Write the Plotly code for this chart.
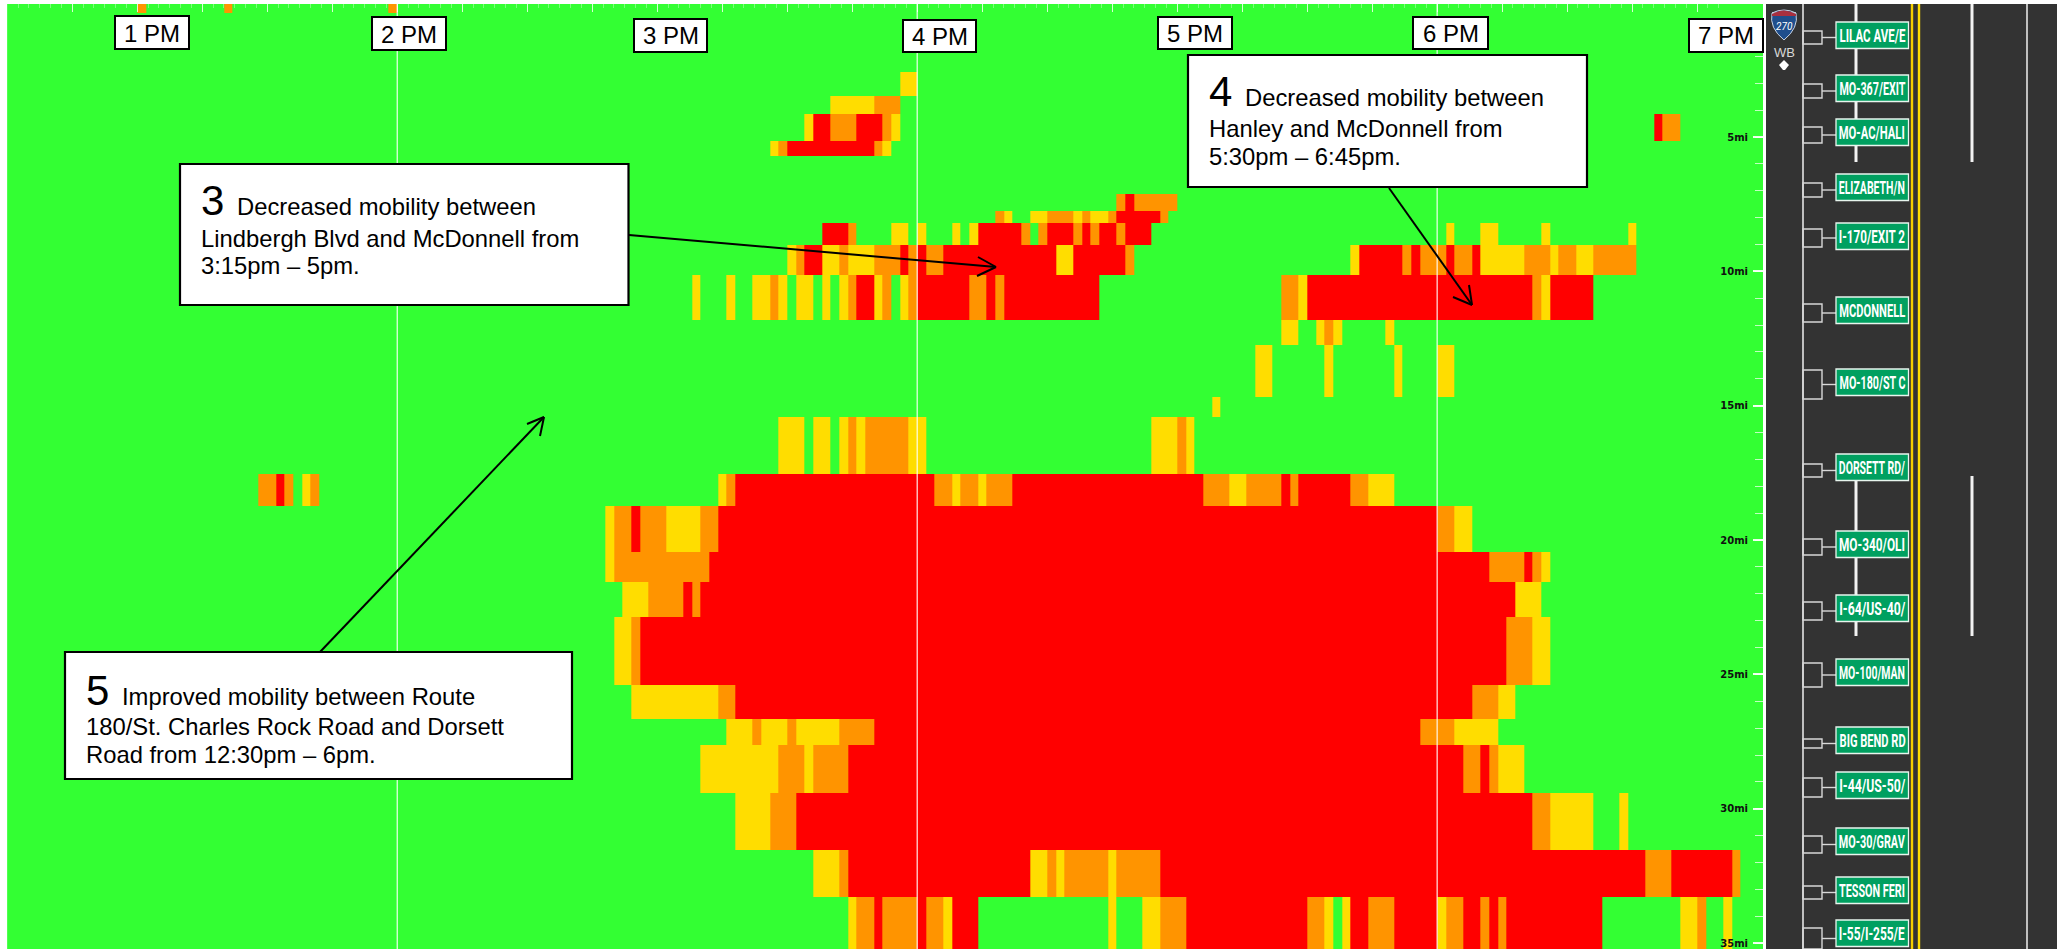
import plotly.graph_objects as go

W, H = 2057, 949
G, Y, O, R = 0, 1, 2, 3

# distance at each row boundary (miles along I-270 WB)
row_edges_mi = [0.05, 0.38, 2.58, 3.47, 4.14, 5.15, 5.70, 7.12, 7.75, 8.20, 9.02, 10.13, 11.81,
                12.74, 14.67, 15.42, 17.54, 18.73, 20.44, 21.56, 22.86, 25.39, 26.66, 27.63,
                29.41, 31.53, 33.28, 35.22]
BIN_MINUTES = 2
FIRST_MINUTE = 30   # minutes after noon of the first time bin
N_BINS = 203

# congestion runs per row: (first bin, end bin, level)
row_00 = [(15, 16, O), (25, 26, O), (44, 45, O)]
row_01 = []
row_02 = [(103, 105, Y)]
row_03 = [(95, 100, Y), (100, 103, O)]
row_04 = [(92, 93, Y), (93, 95, R), (95, 98, O), (98, 101, R), (101, 102, O), (102, 103, Y), (190, 191, R), (191, 193, O)]
row_05 = [(88, 89, Y), (89, 90, O), (90, 100, R), (100, 101, O), (101, 102, Y)]
row_06 = []
row_07 = [(128, 129, O), (129, 130, R), (130, 135, O)]
row_08 = [(114, 115, O), (115, 116, Y), (118, 120, Y), (120, 123, O), (123, 124, Y), (124, 125, O), (125, 127, Y),
          (127, 128, O), (128, 133, R), (133, 134, O)]
row_09 = [(94, 97, R), (97, 98, O), (102, 104, Y), (105, 106, Y), (109, 110, Y), (111, 112, Y), (112, 117, R),
          (117, 118, O), (119, 120, O), (120, 123, R), (123, 124, O), (124, 125, R), (125, 126, O), (126, 128, R),
          (128, 129, O), (129, 132, R), (166, 167, Y), (170, 172, Y), (177, 178, Y), (187, 188, Y)]
row_10 = [(90, 91, Y), (91, 92, O), (92, 94, R), (94, 96, Y), (96, 97, O), (97, 100, Y), (100, 103, O), (103, 104, R),
          (104, 105, O), (105, 106, R), (106, 108, O), (108, 121, R), (121, 123, Y), (123, 129, R), (129, 130, O),
          (155, 156, Y), (156, 161, R), (161, 162, O), (162, 163, R), (163, 166, O), (166, 167, R), (167, 169, O),
          (169, 170, R), (170, 175, Y), (175, 178, O), (178, 179, Y), (179, 181, O), (181, 183, Y), (183, 188, O)]
row_11 = [(79, 80, Y), (83, 84, Y), (86, 88, Y), (88, 89, O), (89, 90, Y), (91, 93, Y), (94, 95, Y), (96, 97, Y),
          (97, 98, O), (98, 100, R), (100, 101, Y), (101, 102, O), (103, 104, Y), (104, 105, O), (105, 111, R),
          (111, 113, O), (113, 114, R), (114, 115, O), (115, 126, R),
          (147, 149, O), (149, 150, Y), (150, 176, R), (176, 177, O), (177, 178, Y), (178, 183, R)]
row_12 = [(147, 149, Y), (151, 152, Y), (152, 153, O), (153, 154, Y), (159, 160, Y)]
row_13 = [(144, 146, Y), (152, 153, Y), (160, 161, Y), (165, 167, Y)]
row_14 = [(139, 140, Y)]
row_15 = [(89, 92, Y), (93, 95, Y), (96, 97, Y), (97, 98, O), (98, 99, Y), (99, 104, O), (104, 106, Y),
          (132, 135, Y), (135, 136, O), (136, 137, Y)]
row_16 = [(29, 31, O), (31, 32, R), (32, 33, O), (34, 35, Y), (35, 36, O), (82, 83, Y), (83, 84, O), (84, 107, R),
          (107, 109, O), (109, 110, Y), (110, 112, O), (112, 113, Y), (113, 116, O), (116, 138, R), (138, 141, O),
          (141, 143, Y), (143, 147, O), (147, 148, R), (148, 149, O), (149, 155, R), (155, 157, O), (157, 160, Y)]
row_17 = [(69, 70, Y), (70, 72, O), (72, 73, R), (73, 76, O), (76, 80, Y), (80, 82, O), (82, 165, R), (165, 167, O), (167, 169, Y)]
row_18 = [(69, 70, Y), (70, 81, O), (81, 171, R), (171, 175, O), (175, 176, R), (176, 177, O), (177, 178, Y)]
row_19 = [(71, 74, Y), (74, 78, O), (78, 79, R), (79, 80, O), (80, 174, R), (174, 177, Y)]
row_20 = [(70, 72, Y), (72, 73, O), (73, 173, R), (173, 176, O), (176, 178, Y)]
row_21 = [(72, 82, Y), (82, 84, O), (84, 169, R), (169, 172, O), (172, 174, Y)]
row_22 = [(83, 86, Y), (86, 87, O), (87, 90, Y), (90, 91, O), (91, 96, Y), (96, 100, O), (100, 163, R), (163, 167, O), (167, 172, Y)]
row_23 = [(80, 89, Y), (89, 92, O), (92, 93, Y), (93, 97, O), (97, 168, R), (168, 170, O), (170, 171, R), (171, 172, O), (172, 175, Y)]
row_24 = [(84, 88, Y), (88, 91, O), (91, 176, R), (176, 178, O), (178, 183, Y), (186, 187, Y)]
row_25 = [(93, 96, Y), (96, 97, O), (97, 118, R), (118, 120, Y), (120, 121, O), (121, 122, Y), (122, 127, O), (127, 128, Y),
          (128, 133, O), (133, 189, R), (189, 192, O), (192, 199, R), (199, 200, O)]
row_26 = [(97, 98, Y), (98, 100, O), (100, 101, R), (101, 105, O), (105, 106, R), (106, 108, O), (108, 109, Y), (109, 112, R),
          (127, 128, Y), (131, 133, Y), (133, 136, O), (136, 150, R), (150, 152, O), (152, 153, Y), (154, 155, Y), (155, 157, R),
          (157, 160, O), (160, 165, R), (165, 166, Y), (166, 168, O), (168, 170, R), (170, 171, O), (171, 172, R), (172, 173, O),
          (173, 184, R), (193, 195, Y), (195, 196, O), (198, 199, Y)]

all_rows = [row_00, row_01, row_02, row_03, row_04, row_05, row_06, row_07, row_08, row_09, row_10, row_11, row_12, row_13,
            row_14, row_15, row_16, row_17, row_18, row_19, row_20, row_21, row_22, row_23, row_24, row_25, row_26]

hour_names = ["1 PM", "2 PM", "3 PM", "4 PM", "5 PM", "6 PM", "7 PM"]
grid_minutes = [120, 240, 360]
mile_ticks = [5, 10, 15, 20, 25, 30, 35]
mile_labels = ["5mi", "10mi", "15mi", "20mi", "25mi", "30mi", "35mi"]
sign_names = ["LILAC AVE/E", "MO-367/EXIT", "MO-AC/HALI", "ELIZABETH/N", "I-170/EXIT 2", "MCDONNELL", "MO-180/ST C",
              "DORSETT RD/", "MO-340/OLI", "I-64/US-40/", "MO-100/MAN", "BIG BEND RD", "I-44/US-50/", "MO-30/GRAV",
              "TESSON FERI", "I-55/I-255/E"]

time_edges = [FIRST_MINUTE + BIN_MINUTES * i for i in range(N_BINS + 1)]
z = []
for runs in all_rows:
    line = [G] * N_BINS
    for a, b, lev in runs:
        for c in range(a, b):
            line[c] = lev
    z.append(line)

C_GREEN, C_YEL, C_ORG, C_RED = "#33FF33", "#FFDD00", "#FF9400", "#FF0000"
scale = [[0, C_GREEN], [0.25, C_GREEN], [0.25, C_YEL], [0.5, C_YEL], [0.5, C_ORG], [0.75, C_ORG], [0.75, C_RED], [1, C_RED]]

L_PX, R_PX, T_PX = 7.3, 1763, 4
fig = go.Figure(go.Heatmap(x=time_edges, y=row_edges_mi, z=z, zmin=0, zmax=3, colorscale=scale, showscale=False,
                           hoverinfo="skip", xgap=0, ygap=0))

def px(x):
    return x / W
def py(y):
    return 1 - y / H

shapes, notes = [], []
def rect(x0, y0, x1, y1, fill=None, line=None, lw=0):
    shapes.append(dict(type="rect", xref="paper", yref="paper", x0=px(x0), x1=px(x1), y0=py(y0), y1=py(y1),
                       fillcolor=fill if fill else "rgba(0,0,0,0)", line=dict(color=line if line else "rgba(0,0,0,0)", width=lw)))
def seg(x0, y0, x1, y1, color="#000000", lw=2):
    shapes.append(dict(type="line", xref="paper", yref="paper", x0=px(x0), x1=px(x1), y0=py(y0), y1=py(y1),
                       line=dict(color=color, width=lw)))
def text(x, y, s, size, color="#000000", font="Liberation Sans", xanchor="left"):
    notes.append(dict(xref="paper", yref="paper", x=px(x), y=py(y), text=s, showarrow=False, xanchor=xanchor, yanchor="middle",
                      font=dict(family=font, size=size, color=color), borderpad=0, borderwidth=0))
def base_text(x, baseline, s, size):
    text(x, baseline - 0.34 * size, s, size)

# vertical hour lines
for m in grid_minutes:
    shapes.append(dict(type="line", xref="x", yref="paper", x0=m, x1=m, y0=0, y1=py(T_PX),
                       line=dict(color="rgba(255,255,255,0.85)", width=1.3)))

# right panel: road
rect(R_PX, 0, 1766, H, fill="#FFFFFF")
rect(1766, T_PX, W, H, fill="#333333")
seg(1803, T_PX, 1803, H, "#E4E4E4", 1.6)
seg(2027, T_PX, 2027, H, "#E4E4E4", 1.6)
seg(1912, T_PX, 1912, H, "#F5CE00", 2.4)
seg(1919, T_PX, 1919, H, "#FFDD00", 2.4)
for x in (1856, 1972):
    seg(x, T_PX, x, 162, "#F2F2F2", 3)
    seg(x, 476, x, 636, "#F2F2F2", 3)

sign_tops = [22, 75, 119, 174, 223, 297, 369, 454, 531, 595, 659, 727, 772, 828, 877, 920]
ramp_boxes = [(31, 44), (84, 98), (127, 143), (183, 197), (229, 247), (304, 322), (370, 399), (464, 477), (539, 555),
              (602, 620), (663, 687), (739, 748), (778, 797), (836, 853), (886, 899), (928, 949)]
for name, top, (r0, r1) in zip(sign_names, sign_tops, ramp_boxes):
    rect(1803, r0, 1822, r1, line="#D8D8D8", lw=1.4)
    seg(1822, (r0 + r1) / 2, 1836, (r0 + r1) / 2, "#D8D8D8", 1.4)
    rect(1836, top, 1908.5, top + 26.5, fill="#00A060", line="#E8F5EE", lw=1.3)
    text(1872.3, top + 13.5, "<b>%s</b>" % name, 19, "#FFFFFF", "Roboto", "center")

# shield
shapes.append(dict(type="path", xref="paper", yref="paper", fillcolor="#1F4E8C", line=dict(color="#C8D4E4", width=1),
                   path="M %f %f L %f %f Q %f %f %f %f Q %f %f %f %f L %f %f Q %f %f %f %f Z" % (
                       px(1772), py(13), px(1796), py(13), px(1799), py(28), px(1784), py(40), px(1769), py(28), px(1772), py(13),
                       px(1772), py(13), px(1784), py(7), px(1796), py(13))))
shapes.append(dict(type="path", xref="paper", yref="paper", fillcolor="#A83040", line=dict(width=0),
                   path="M %f %f Q %f %f %f %f L %f %f L %f %f Z" % (
                       px(1772), py(14), px(1784), py(7), px(1796), py(14), px(1796), py(16), px(1772), py(16))))
text(1784, 27, "<i>270</i>", 10, "#FFFFFF", "Roboto", "center")
text(1784, 53, "WB", 13, "#D8D8D8", "Liberation Sans", "center")
shapes.append(dict(type="path", xref="paper", yref="paper", fillcolor="#FFFFFF", line=dict(width=0),
                   path="M %f %f L %f %f L %f %f L %f %f L %f %f Z" % (
                       px(1784), py(60), px(1789), py(65), px(1785), py(70), px(1783), py(70), px(1779), py(65))))

# hour label boxes
hour_boxes = [(115, 16, 189, 49), (372, 17, 446, 50), (634, 19, 707, 52), (903, 20, 976, 52),
              (1158, 17, 1232, 49), (1413, 17, 1488, 49), (1689, 19, 1763, 52)]
for name, (x0, y0, x1, y1) in zip(hour_names, hour_boxes):
    rect(x0, y0, x1, y1, fill="#FFFFFF", line="#000000", lw=2)
    text((x0 + x1) / 2, (y0 + y1) / 2 + 0.5, name, 24, "#000000", "Liberation Sans", "center")

# callout arrows
seg(629, 235, 996, 267)
seg(978, 257, 996, 267)
seg(977, 276, 996, 267)
seg(1389, 188, 1472, 305)
seg(1453, 297, 1472, 305)
seg(1469, 285, 1472, 305)
seg(320, 652, 544, 417)
seg(527, 424, 544, 417)
seg(540, 436, 544, 417)

# callout boxes
rect(180, 164, 628.5, 305, fill="#FFFFFF", line="#000000", lw=2.2)
base_text(201, 215, "3", 42)
base_text(237, 215, "Decreased mobility between", 23.8)
base_text(201, 247, "Lindbergh Blvd and McDonnell from", 23.8)
base_text(201, 274, "3:15pm – 5pm.", 23.8)

rect(1188, 55, 1587, 187, fill="#FFFFFF", line="#000000", lw=2.2)
base_text(1209, 106, "4", 42)
base_text(1245, 106, "Decreased mobility between", 23.8)
base_text(1209, 137, "Hanley and McDonnell from", 23.8)
base_text(1209, 165, "5:30pm – 6:45pm.", 23.8)

rect(65, 652, 572, 779, fill="#FFFFFF", line="#000000", lw=2.2)
base_text(86, 705, "5", 42)
base_text(122, 705, "Improved mobility between Route", 23.8)
base_text(86, 735, "180/St. Charles Rock Road and Dorsett", 23.8)
base_text(86, 763, "Road from 12:30pm – 6pm.", 23.8)

fig.update_layout(
    width=W, height=H, margin=dict(l=0, r=0, t=0, b=0), paper_bgcolor="#FFFFFF", plot_bgcolor=C_GREEN,
    shapes=shapes, annotations=notes, showlegend=False,
    xaxis=dict(domain=[px(L_PX), px(R_PX)], range=[30, 435.2], side="top", showgrid=False, zeroline=False,
               showticklabels=False, ticks="inside", ticklen=8, tickwidth=1, tickcolor="rgba(255,255,255,0.8)",
               tick0=0, dtick=15, layer="above traces",
               minor=dict(ticks="inside", ticklen=4, tickwidth=1, tickcolor="rgba(255,255,255,0.35)", tick0=0, dtick=2.5)),
    yaxis=dict(domain=[0, py(T_PX)], range=[35.22, 0.05], side="right", anchor="x", showgrid=False, zeroline=False,
               ticks="inside", ticklen=10, tickwidth=1.5, tickcolor="rgba(255,255,255,0.9)",
               tickmode="array", tickvals=mile_ticks, ticktext=mile_labels, ticklabelstandoff=4,
               ticklabelposition="inside", tickfont=dict(family="DejaVu Sans", size=10, color="#101010", weight="bold"),
               layer="above traces",
               minor=dict(ticks="inside", ticklen=8, tickwidth=1, tickcolor="rgba(255,255,255,0.7)", tick0=0, dtick=1)),
)
# narrow the highway-sign lettering to the condensed width of the real signs
squeeze = """
document.body.style.margin='0';document.body.style.overflow='hidden';
function squeezeSigns(){
  document.querySelectorAll('.annotation-text').forEach(function(t){
    var u=t.getAttribute('data-unformatted')||'';
    if(u.indexOf('<b>')===0){ t.setAttribute('textLength','66'); t.setAttribute('lengthAdjust','spacingAndGlyphs'); }
  });
}
squeezeSigns(); setTimeout(squeezeSigns,30); setTimeout(squeezeSigns,200);
"""
fig.write_html("out.html", config={"displayModeBar": False}, post_script=squeeze)
